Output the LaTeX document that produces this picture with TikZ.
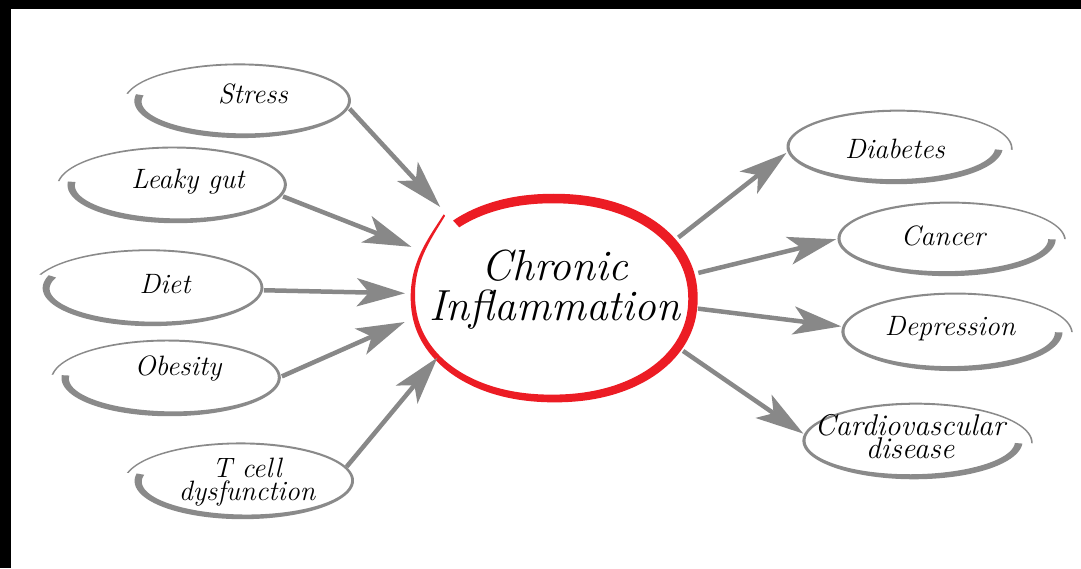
\documentclass[tikz,border=0pt]{standalone}
\usepackage{fontspec}
\usetikzlibrary{arrows.meta,calc,shapes.geometric}

\definecolor{ringred}{RGB}{236,28,36}
\definecolor{bubblegray}{RGB}{138,138,138}
\definecolor{arrowgray}{RGB}{136,136,136}

\tikzset{
  declare function={
    sqd(\a)=((abs(cos(\a))+0.0001)^2.12+(abs(sin(\a))+0.0001)^2.12)^(1/2.12);
  },
  bubble/.style={ellipse, draw=none, inner sep=0pt, outer sep=0pt},
  caption/.style={font=\fontsize{28}{23}\selectfont\itshape, text=black,
    anchor=base, inner sep=0pt, align=center},
  link/.style={draw=arrowgray, line width=4.5pt,
    -{Stealth[length=48pt,width=28pt,inset=12pt]}},
}

% brush-stroke loop: thin start outside, thick end on the ellipse
% #1,#2 centre  #3,#4 semi-axes  #5 start angle  #6 sweep
\newcommand\swirl[6]{%
  \fill[bubblegray]
    plot[domain=0:1,samples=140]
      ({#1+((1+0.125*(1-\x)*(1-\x))*#3+0.8+3*\x*\x)*cos(#5+(#6)*\x)},
       {#2+((1+0.125*(1-\x)*(1-\x))*#4+0.8+3*\x*\x)*sin(#5+(#6)*\x)})
    -- plot[domain=1:0,samples=140]
      ({#1+((1+0.125*(1-\x)*(1-\x))*#3-0.8-3*\x*\x)*cos(#5+(#6)*\x)},
       {#2+((1+0.125*(1-\x)*(1-\x))*#4-0.8-3*\x*\x)*sin(#5+(#6)*\x)})
    -- cycle;
}

\begin{document}
\begin{tikzpicture}[x=1pt,y=-1pt]
\useasboundingbox (0,0) rectangle (1081,568);
\fill[white] (0,0) rectangle (1081,568);
\fill[black] (0,0) rectangle (1081,9);
\fill[black] (0,0) rectangle (11,568);

% red hand-drawn ring (rounded brush stroke)
\fill[ringred]
  plot[domain=0:1,samples=260]
    ({553.25+((1+0.12*exp(-25*\x))*139.75+0.5*(2+20*\x-13*\x*\x))*cos(227-360*\x)/sqd(227-360*\x)},
     {298.5+((1+0.12*exp(-25*\x))*100+0.5*(2+20*\x-13*\x*\x))*sin(227-360*\x)/sqd(227-360*\x)})
  -- plot[domain=1:0,samples=260]
    ({553.25+((1+0.12*exp(-25*\x))*139.75-0.5*(2+20*\x-13*\x*\x))*cos(227-360*\x)/sqd(227-360*\x)},
     {298.5+((1+0.12*exp(-25*\x))*100-0.5*(2+20*\x-13*\x*\x))*sin(227-360*\x)/sqd(227-360*\x)})
  -- cycle;
\node[bubble, minimum width=279.5pt, minimum height=200pt] (ring) at (553.25,298.5) {};
\node[caption, font=\fontsize{43.5}{40}\selectfont\itshape] (ringtext) at (555,320)
  {Chronic\\Inflammation};

% causes (left)
\swirl{241.9}{101.2}{103.9}{34.2}{191}{360}
\node[bubble, minimum width=220pt, minimum height=74pt] (stress) at (241.9,101.2) {};
\node[caption] (stresstext) at (253,103) {Stress};

\swirl{176.5}{185.3}{105.3}{35.2}{186}{360}
\node[bubble, minimum width=223pt, minimum height=76pt] (leaky) at (176.5,185.3) {};
\node[caption] (leakytext) at (188,188) {Leaky gut};

\swirl{152}{288.3}{105.8}{35.2}{200}{360}
\node[bubble, minimum width=224pt, minimum height=76pt] (diet) at (152,288.3) {};
\node[caption] (diettext) at (165,293) {Diet};

\swirl{170.5}{378.3}{105.3}{35.2}{185}{360}
\node[bubble, minimum width=223pt, minimum height=76pt] (obesity) at (170.5,378.3) {};
\node[caption] (obesitytext) at (178,375) {Obesity};

\swirl{243.5}{481.3}{105.3}{35.2}{192}{360}
\node[bubble, minimum width=223pt, minimum height=76pt] (tcell) at (243.5,481.3) {};
\node[caption] (tcelltext) at (247,500) {T cell\\dysfunction};

% consequences (right)
\swirl{895.1}{147.2}{103.9}{34.2}{4}{-360}
\node[bubble, minimum width=220pt, minimum height=74pt] (diabetes) at (895.1,147.2) {};
\node[caption] (diabetestext) at (895,158) {Diabetes};

\swirl{947.1}{239.2}{104.8}{34.2}{0}{-360}
\node[bubble, minimum width=222pt, minimum height=74pt] (cancer) at (947.1,239.2) {};
\node[caption] (cancertext) at (943,245) {Cancer};

\swirl{952.5}{332.2}{106.2}{36.1}{0}{-360}
\node[bubble, minimum width=225pt, minimum height=78pt] (depression) at (952.5,332.2) {};
\node[caption] (depressiontext) at (950,335) {Depression};

\swirl{913}{441.3}{105.8}{35.2}{3}{-360}
\node[bubble, minimum width=224pt, minimum height=76pt] (cardio) at (913,441.3) {};
\node[caption, font=\fontsize{30}{18}\selectfont\itshape] (cardiotext) at (910,458)
  {Cardiovascular\\disease};

% connectors
\draw[link] (stress.-4)  -- ($(ring.center)!1.222!(ring.141)$);
\draw[link] (leaky.-6)   -- ($(ring.center)!1.139!(ring.160)$);
\draw[link] (diet.-1)    -- ($(ring.center)!1.062!(ring.178)$);
\draw[link] (obesity.1)  -- ($(ring.center)!1.089!(ring.189)$);
\draw[link] (tcell.8)    -- ($(ring.center)!1.017!(ring.207)$);
\draw[link] ($(ring.center)!1.084!(ring.26)$)  -- (diabetes.183);
\draw[link] ($(ring.center)!1.069!(ring.10)$)  -- (cancer.180);
\draw[link] ($(ring.center)!1.041!(ring.-4)$)  -- (depression.177);
\draw[link] ($(ring.center)!1.067!(ring.-22)$) -- (cardio.176);
\end{tikzpicture}
\end{document}
